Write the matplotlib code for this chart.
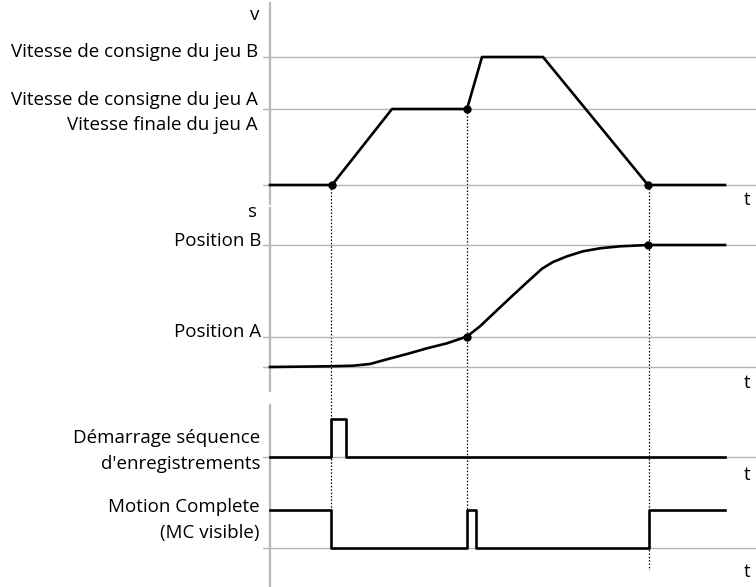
import matplotlib
matplotlib.use("Agg")
import matplotlib.pyplot as plt
from matplotlib.transforms import blended_transform_factory

plt.rcParams['font.family'] = ['Liberation Sans Narrow', 'Open Sans', 'DejaVu Sans']

# time axis (arbitrary units, 0 = start of the axis)
t_v = [0, 62, 122, 197, 212, 273, 378, 455]
v = [0, 0, 76, 76, 128, 128, 0, 0]
v_A, v_B = 76, 128
t_v_dots = [62, 197, 378]
v_dots = [0, 76, 0]

t_s = [0, 60, 83, 100, 117, 137, 157, 177, 197, 210, 223, 240, 257, 272,
       283, 297, 313, 330, 350, 378, 455]
s = [0, 0.7, 1.3, 3, 7.7, 13, 18.7, 23.7, 30.5, 40.7, 53, 69, 84.7, 98.3,
     105, 110.7, 115.7, 118.7, 120.7, 122, 122]
s_A, s_B = 30.5, 122
t_s_dots = [197, 378]
s_dots = [30.5, 122]

t_start = [0, 61, 61, 76, 76, 455]
start = [0, 0, 38, 38, 0, 0]

t_mc = [0, 61, 61, 197, 197, 206, 206, 379, 379, 455]
mc = [38, 38, 0, 0, 38, 38, 0, 0, 38, 38]

# dotted markers: time, from (fig px), to (fig px)
guides = [(61, 185, 510), (197, 109, 510), (379, 185, 570)]

W, H = 756, 587
fig = plt.figure(figsize=(W / 100, H / 100), dpi=100)

GRAY = '#b4b4b4'
AX_GRAY = '#b9b9b9'
LW = 1.9


def make_ax(top, bottom, base):
    # rect in figure pixels -> fraction; base = pixel y of value 0
    ax = fig.add_axes([263 / W, 1 - bottom / H, (W - 263) / W, (bottom - top) / H])
    ax.set_xlim(-7, 486)
    ax.set_ylim(-(bottom - base), base - top)
    for k in ['top', 'right', 'bottom']:
        ax.spines[k].set_visible(False)
    ax.spines['left'].set_position(('data', 0))
    ax.spines['left'].set_color(AX_GRAY)
    ax.spines['left'].set_linewidth(1.6)
    ax.set_xticks([])
    ax.set_yticks([])
    ax.patch.set_visible(False)
    ax.axhline(0, color=GRAY, lw=1.0, zorder=1)
    return ax


ax1 = make_ax(3, 204, 185)
ax2 = make_ax(208, 391, 367)
ax3 = make_ax(405, 500, 457)
ax4 = make_ax(500, 587, 548)
ax4.spines['left'].set_bounds(-39, 47)
ax3.spines['left'].set_bounds(-43, 52)

fs = 13.5

# velocity
for lv in (v_A, v_B):
    ax1.axhline(lv, color=GRAY, lw=1.0, zorder=1)
ax1.plot(t_v, v, color='black', lw=LW, zorder=3)
ax1.plot(t_v_dots, v_dots, 'o', color='black', ms=5, zorder=4)
ax1.text(-11, 170, 'v', ha='right', va='center', fontsize=fs)
ax1.text(-12, 133, 'Vitesse de consigne du jeu B', ha='right', va='center', fontsize=fs)
ax1.text(-12, 85, 'Vitesse de consigne du jeu A', ha='right', va='center', fontsize=fs)
ax1.text(-12, 60, 'Vitesse finale du jeu A', ha='right', va='center', fontsize=fs)
ax1.text(474, -15, 't', ha='left', va='center', fontsize=fs, clip_on=False)

# position
for lv in (s_A, s_B):
    ax2.axhline(lv, color=GRAY, lw=1.0, zorder=1)
ax2.plot(t_s, s, color='black', lw=LW, zorder=3)
ax2.plot(t_s_dots, s_dots, 'o', color='black', ms=5, zorder=4)
ax2.text(-13, 155, 's', ha='right', va='center', fontsize=fs)
ax2.text(-9, 126, 'Position B', ha='right', va='center', fontsize=fs)
ax2.text(-9, 35, 'Position A', ha='right', va='center', fontsize=fs)
ax2.text(474, -16, 't', ha='left', va='center', fontsize=fs, clip_on=False)

# start signal
ax3.plot(t_start, start, color='black', lw=LW, zorder=3)
ax3.text(-10, 19, 'Démarrage séquence', ha='right', va='center', fontsize=fs)
ax3.text(-10, -7, "d'enregistrements", ha='right', va='center', fontsize=fs)
ax3.text(474, -18, 't', ha='left', va='center', fontsize=fs, clip_on=False)

# motion complete
ax4.plot(t_mc, mc, color='black', lw=LW, zorder=3)
ax4.text(-10, 41, 'Motion Complete', ha='right', va='center', fontsize=fs)
ax4.text(-10, 15, '(MC visible)', ha='right', va='center', fontsize=fs)
ax4.text(474, -24, 't', ha='left', va='center', fontsize=fs, clip_on=False)

# dotted guides across panels
tr = blended_transform_factory(ax1.transData, fig.transFigure)
for tg, y0, y1 in guides:
    fig.add_artist(plt.Line2D([tg, tg], [1 - y0 / H, 1 - y1 / H], transform=tr,
                              color='black', lw=0.9, ls=(0, (1.2, 1.5)), zorder=0))

fig.savefig('out.png', dpi=100)
